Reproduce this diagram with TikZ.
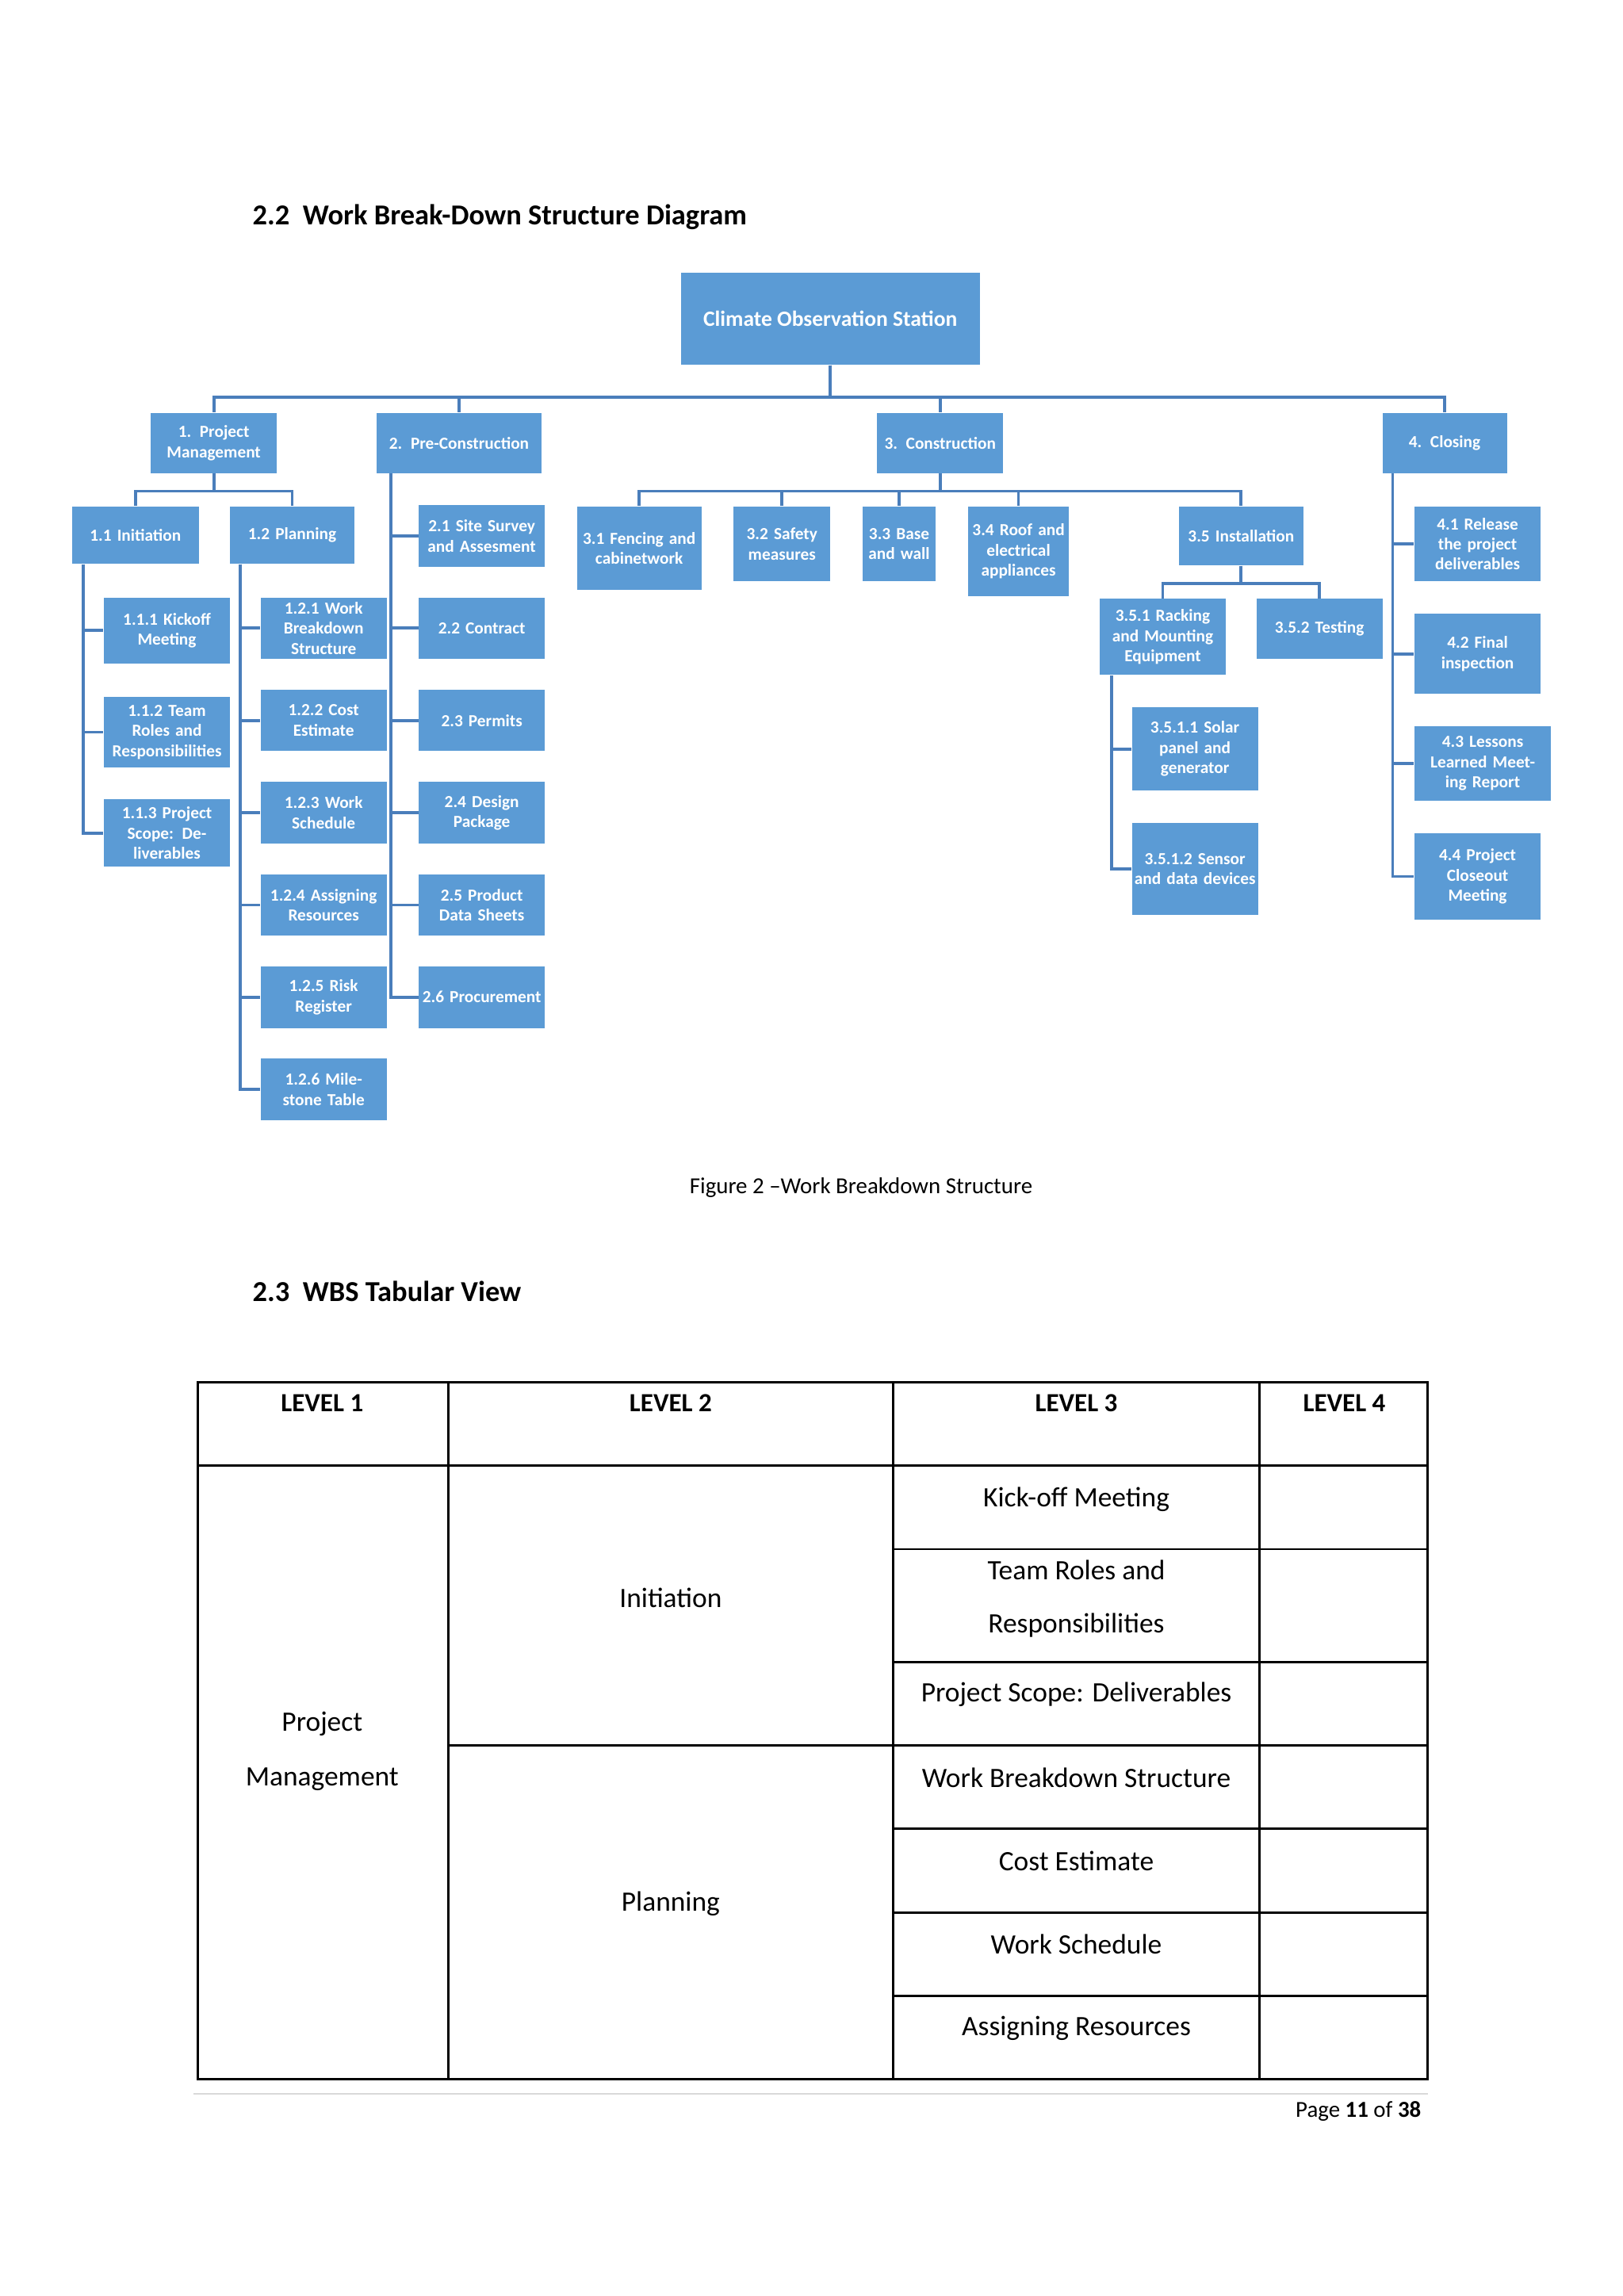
\documentclass[tikz,border=0pt]{standalone}
\usepackage{fontspec}
\setmainfont{Carlito}
\begin{document}
\begin{tikzpicture}[x=0.537pt,y=-0.537pt,
  edge/.style={draw=blue!40!black!60!cyan!70, line width=1.1pt},
  tline/.style={draw=black, line width=0.8pt},
  ttext/.style={font=\fontsize{10.3}{12}\selectfont},
  thead/.style={font=\fontsize{9.6}{12}\selectfont\bfseries}]
\definecolor{boxc}{HTML}{5B9BD5}
\definecolor{linec}{HTML}{4A7EBB}
\tikzset{edge/.style={draw=linec, line width=1.1pt}}
\newcommand{\bx}[6]{\node[fill=boxc, text=white, minimum width={(#4-#2)*0.537pt}, minimum height={(#5-#3)*0.537pt}, text width={(#4-#2-2)*0.537pt}, align=center, inner sep=0pt, font=\fontsize{6.2}{7.4}\selectfont\bfseries] (#1) at ({(#2+#4)/2},{(#3+#5)/2}) {#6};}
\fill[white] (0,0) rectangle (1108,1568);
\useasboundingbox (0,0) rectangle (1108,1568);
\node[anchor=west, font=\fontsize{10.6}{12}\selectfont\bfseries] (t1) at (166,148) {2.2\ \ Work Break-Down Structure Diagram};
% boxes
\node[fill=boxc, text=white, minimum width={204*0.537pt}, minimum height={63*0.537pt}, inner sep=0pt, font=\fontsize{8}{9}\selectfont\bfseries] (root) at (567,217.5) {Climate Observation Station};
\bx{pm}{103}{282}{189}{323}{1. Project Management}
\bx{pc}{257}{282}{370}{323}{2. Pre-Construction}
\bx{co}{599}{282}{685}{323}{3. Construction}
\bx{cl}{944}{282}{1029}{323}{4. Closing}
\bx{ini}{49}{346}{136}{385}{1.1 Initiation}
\bx{pla}{157}{346}{242}{385}{1.2 Planning}
\bx{a1}{71}{408}{157}{453}{1.1.1 Kickoff Meeting}
\bx{a2}{71}{476}{157}{524}{1.1.2 Team Roles and Responsibilities}
\bx{a3}{71}{546}{157}{592}{1.1.3 Project Scope: Deliverables}
\bx{b1}{178}{408}{264}{450}{1.2.1 Work Breakdown Structure}
\bx{b2}{178}{471}{264}{513}{1.2.2 Cost Estimate}
\bx{b3}{178}{534}{264}{576}{1.2.3 Work Schedule}
\bx{b4}{178}{597}{264}{639}{1.2.4 Assigning Resources}
\bx{b5}{178}{660}{264}{702}{1.2.5 Risk Register}
\bx{b6}{178}{723}{264}{765}{1.2.6 Milestone Table}
\bx{c1}{286}{345}{372}{387}{2.1 Site Survey and Assesment}
\bx{c2}{286}{408}{372}{450}{2.2 Contract}
\bx{c3}{286}{471}{372}{513}{2.3 Permits}
\bx{c4}{286}{534}{372}{576}{2.4 Design Package}
\bx{c5}{286}{597}{372}{639}{2.5 Product Data Sheets}
\bx{c6}{286}{660}{372}{702}{2.6 Procurement}
\bx{d1}{394}{346}{479}{403}{3.1 Fencing and cabinetwork}
\bx{d2}{501}{346}{567}{397}{3.2 Safety measures}
\bx{d3}{589}{346}{639}{397}{3.3 Base and wall}
\bx{d4}{661}{346}{730}{407}{3.4 Roof and electrical appliances}
\bx{d5}{805}{346}{890}{386}{3.5 Installation}
\bx{e1}{751}{409}{837}{461}{3.5.1 Racking and Mounting Equipment}
\bx{e2}{858}{409}{944}{450}{3.5.2 Testing}
\bx{f1}{773}{483}{859}{540}{3.5.1.1 Solar panel and generator}
\bx{f2}{773}{562}{859}{625}{3.5.1.2 Sensor and data devices}
\bx{g1}{966}{346}{1052}{397}{4.1 Release the project deliverables}
\bx{g2}{966}{419}{1052}{474}{4.2 Final inspection}
\bx{g3}{966}{496}{1059}{547}{4.3 Lessons Learned Meeting Report}
\bx{g4}{966}{569}{1052}{628}{4.4 Project Closeout Meeting}
% connectors
\foreach \n in {pm,pc,co,cl} \draw[edge] (root.south) -- ++(0,22) -| (\n.north);
\foreach \n in {ini,pla} \draw[edge] (pm.south) -- ++(0,12) -| (\n.north);
\foreach \n in {d1,d2,d3,d4,d5} \draw[edge] (co.south) -- ++(0,12) -| (\n.north);
\foreach \n in {e1,e2} \draw[edge] (d5.south) -- ++(0,12) -| (\n.north);
\foreach \n in {a1,a2,a3} \draw[edge] (ini.south -| 57,0) |- (\n.west);
\foreach \n in {b1,b2,b3,b4,b5,b6} \draw[edge] (pla.south -| 164,0) |- (\n.west);
\foreach \n in {c1,c2,c3,c4,c5,c6} \draw[edge] (pc.south -| 267,0) |- (\n.west);
\foreach \n in {f1,f2} \draw[edge] (e1.south -| 759,0) |- (\n.west);
\foreach \n in {g1,g2,g3,g4} \draw[edge] (cl.south -| 951,0) |- (\n.west);
\node[font=\fontsize{8.4}{10}\selectfont] (cap) at (588,811) {Figure 2 –Work Breakdown Structure};
\node[anchor=west, font=\fontsize{10.6}{12}\selectfont\bfseries] (t2) at (166,882) {2.3\ \ WBS Tabular View};
% table
\draw[tline] (135,944) rectangle (975,1420);
\foreach \x in {306,610,860} \draw[tline] (\x,944) -- (\x,1420);
\draw[tline] (135,1001) -- (975,1001);
\draw[tline] (306,1192) -- (975,1192);
\foreach \y in {1058,1135,1249,1306,1363} \draw[tline] (610,\y) -- (975,\y);
\node[thead] (h1) at (220,958) {LEVEL 1};
\node[thead] (h2) at (458,958) {LEVEL 2};
\node[thead] (h3) at (735,958) {LEVEL 3};
\node[thead] (h4) at (918,958) {LEVEL 4};
\node[ttext] at (220,1177) {Project};
\node[ttext] at (220,1215) {Management};
\node[ttext] at (458,1091) {Initiation};
\node[ttext] at (458,1300) {Planning};
\node[ttext] at (735,1024) {Kick-off Meeting};
\node[ttext] at (735,1072) {Team Roles and};
\node[ttext] at (735,1110) {Responsibilities};
\node[ttext] at (735,1157) {Project Scope: Deliverables};
\node[ttext] at (735,1214) {Work Breakdown Structure};
\node[ttext] at (735,1271) {Cost Estimate};
\node[ttext] at (735,1328) {Work Schedule};
\node[ttext] at (735,1385) {Assigning Resources};
\draw[black!15, line width=0.6pt] (132,1430) -- (975,1430);
\node[anchor=east, font=\fontsize{8.4}{10}\selectfont] (pg) at (977,1442) {Page \textbf{11} of \textbf{38}};
\end{tikzpicture}
\end{document}
